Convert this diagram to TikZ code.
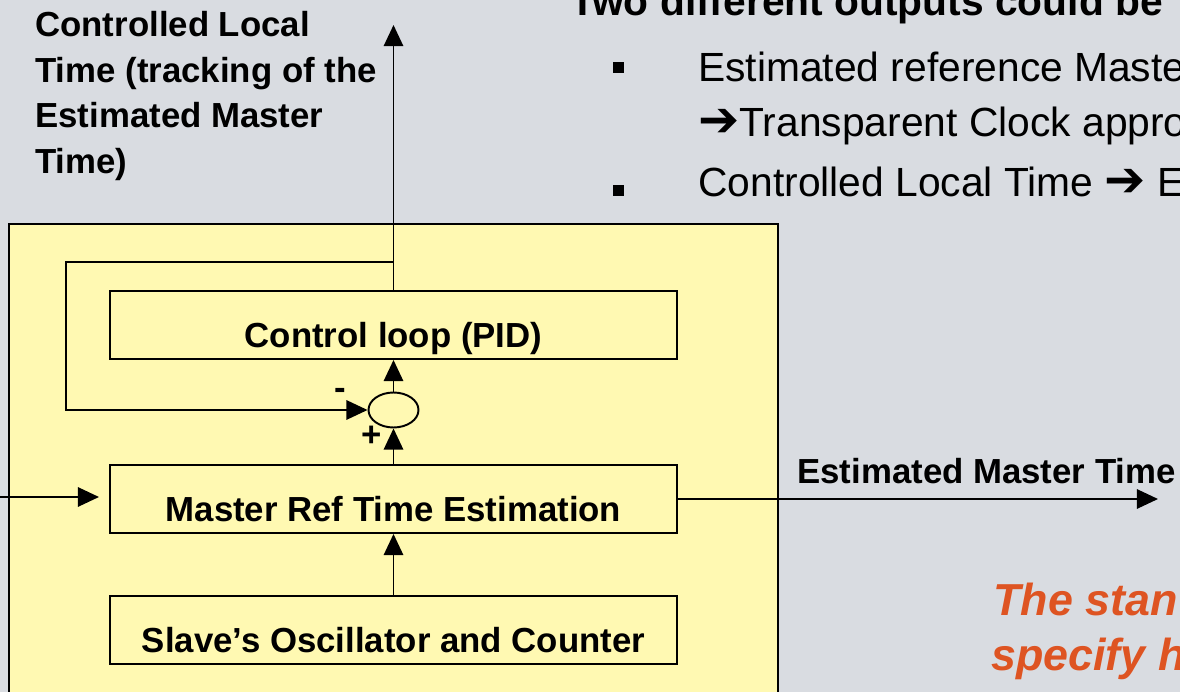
\documentclass[tikz,border=0pt]{standalone}
\usepackage{fontspec}
\setmainfont{Liberation Sans}
\newfontfamily\symfont{DejaVu Sans}
\usetikzlibrary{arrows.meta,calc,positioning,shapes.geometric}
\definecolor{slidegray}{RGB}{217,220,225}
\definecolor{boxyellow}{RGB}{255,249,178}
\definecolor{noteorange}{RGB}{222,84,34}
\newcommand{\dg}{\fontsize{19.8pt}{26pt}\selectfont\bfseries}
\newcommand{\tx}{\fontsize{23.2pt}{28pt}\selectfont}
\newcommand{\rarr}{{\symfont\fontsize{28pt}{28pt}\selectfont ➔}}

\begin{document}
\begin{tikzpicture}[x=0.02cm,y=-0.02cm,
  blk/.style={draw,line width=1.1pt,fill=boxyellow,minimum width=11.34cm,inner xsep=0pt,inner ysep=0pt,text height=1.14cm,text depth=0.22cm,font=\dg},
  con/.style={line width=1.1pt,-{Triangle[length=12pt,width=11pt]}},
  lbl/.style={inner sep=0pt,font=\dg},
  txt/.style={inner sep=0pt,font=\tx,anchor=base west},
  note/.style={inner sep=0pt,font=\fontsize{25.5pt}{30pt}\selectfont\bfseries\itshape,text=noteorange,anchor=base west}]
\useasboundingbox (0,0) rectangle (1180,692);
\clip (0,0) rectangle (1180,692);
\fill[slidegray] (0,0) rectangle (1180,692);
\filldraw[fill=boxyellow,line width=1.2pt] (9,224) rectangle (778,710);
% blocks
\node[blk] (ctrl) at (393.5,325) {Control loop (PID)};
\node[blk] (mast) at (393.5,499) {Master Ref Time Estimation};
\node[blk] (slv) at (393.5,630) {Slave’s Oscillator and Counter};
\node[ellipse,draw,line width=1.1pt,fill=boxyellow,minimum width=1cm,minimum height=0.7cm,inner sep=0pt] (sum) at (393.5,410) {};
\node[lbl,anchor=base] (minus) at (340,399) {-};
\node[lbl,anchor=base] (plus) at (372,446) {+};
% free ends
\coordinate (clt) at (393.5,25);
\coordinate (fb) at (393.5,262);
\coordinate (fbl) at (66,262);
\coordinate (in) at (0,497);
\coordinate (inend) at (99,497);
\coordinate (emt) at (1158,499);
% connectors
\draw[con] (slv) -- (mast);
\draw[con] (mast) -- (sum);
\draw[con] (sum) -- (ctrl);
\draw[con] (ctrl) -- (clt);
\draw[con] (fb) -- (fbl) |- (sum);
\draw[con] (in) -- (inend);
\draw[con] (mast) -- (emt);
% labels
\node[lbl,anchor=north west,align=left] (cltlbl) at (35,11) {Controlled Local\\Time (tracking of the\\Estimated Master\\Time)};
\node[lbl,anchor=base west] (emtlbl) at (797,483) {Estimated Master Time};
% slide text
\node[txt,font=\tx\bfseries] (title) at (570,16) {Two different outputs could be};
\foreach \y/\nm in {68/bl1,191/bl2}
  \node[fill,minimum size=0.22cm,inner sep=0pt] (\nm) at (618,\y) {};
\node[txt] (ln1) at (698,82) {Estimated reference Maste};
\node[txt] (ln2) at (698,137) {\rarr Transparent Clock appro};
\node[txt] (ln3) at (698,197) {Controlled Local Time \rarr{} E};
\node[note] (nt1) at (993,615) {The stan};
\node[note] (nt2) at (991,670) {specify h};
\end{tikzpicture}
\end{document}
